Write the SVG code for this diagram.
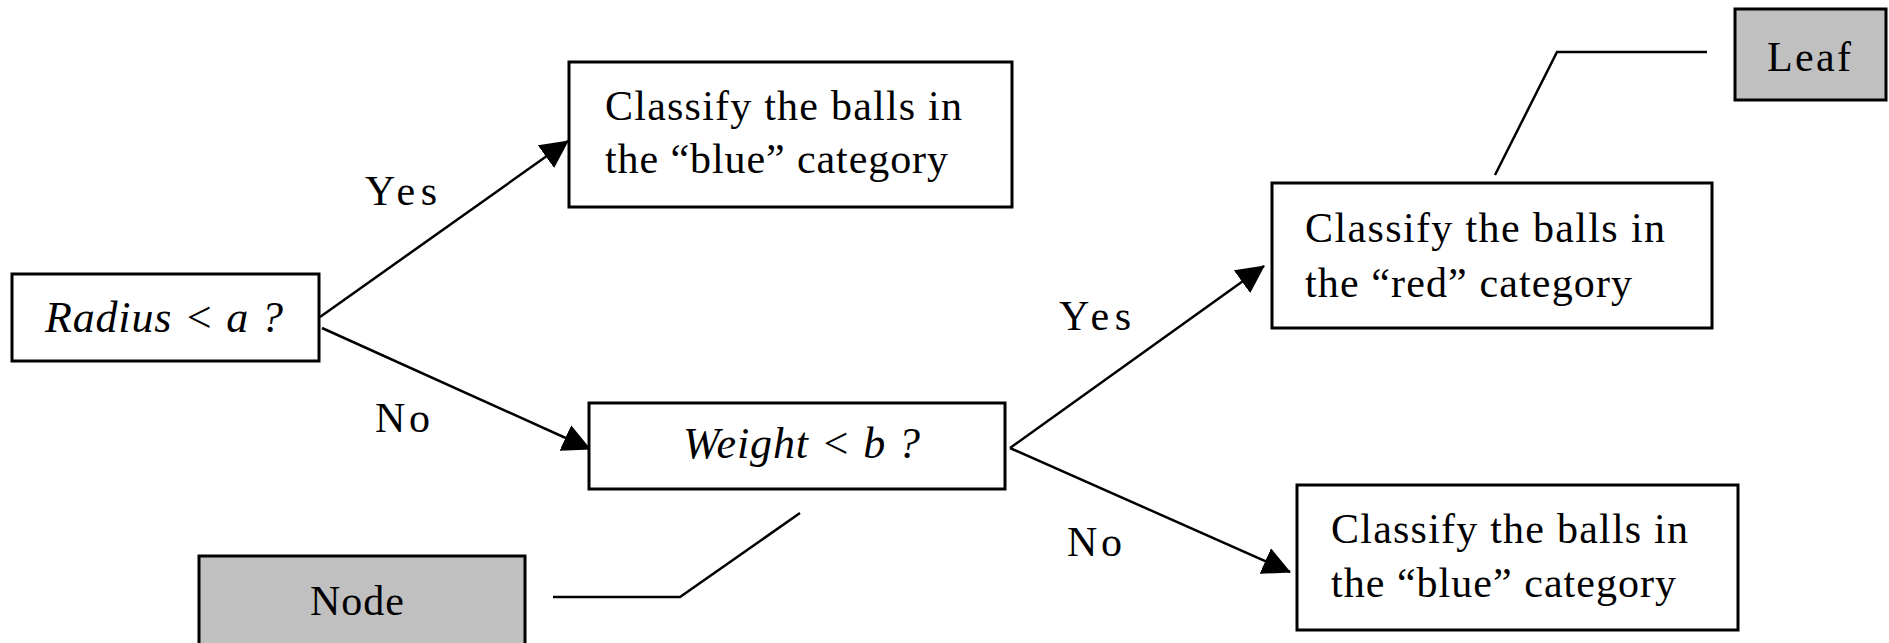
<svg xmlns="http://www.w3.org/2000/svg" width="1889" height="643" viewBox="0 0 1889 643">
<style>
.box{fill:#ffffff;stroke:#000;stroke-width:3}
.gray{fill:#c0c0c0;stroke:#000;stroke-width:3}
.t{font-family:"Liberation Serif","Times New Roman",serif;font-size:42px;fill:#000}
.i{font-family:"Liberation Serif","Times New Roman",serif;font-size:44px;font-style:italic;fill:#000}
.c{fill:none;stroke:#000;stroke-width:2.5}
</style>
<defs>
<marker id="ah" markerUnits="userSpaceOnUse" viewBox="0 0 28 28" markerWidth="28" markerHeight="28" refX="27" refY="14" orient="auto">
<path d="M0,0 L28,14 L0,28 Z" fill="#000"/>
</marker>
</defs>
<rect width="1889" height="643" fill="#fff"/>
<g id="connectors">
<line class="c" x1="320" y1="317" x2="568" y2="141" marker-end="url(#ah)"/>
<line class="c" x1="322" y1="328" x2="590" y2="449" marker-end="url(#ah)"/>
<line class="c" x1="1010" y1="448" x2="1264" y2="266" marker-end="url(#ah)"/>
<line class="c" x1="1010" y1="448" x2="1290" y2="572" marker-end="url(#ah)"/>
<polyline class="c" points="553,597 680,597 800,513"/>
<polyline class="c" points="1707,52 1557,52 1495,175"/>
<text class="t" x="365" y="205" textLength="72" lengthAdjust="spacing">Yes</text>
<text class="t" x="375" y="432" textLength="55" lengthAdjust="spacing">No</text>
<text class="t" x="1059" y="330" textLength="72" lengthAdjust="spacing">Yes</text>
<text class="t" x="1067" y="556" textLength="55" lengthAdjust="spacing">No</text>
</g>
<g id="radius">
<rect class="box" x="12" y="274" width="307" height="87"/>
<text class="i" x="45" y="332" textLength="238" lengthAdjust="spacing">Radius &lt; a ?</text>
</g>
<g id="blue1">
<rect class="box" x="569" y="62" width="443" height="145"/>
<text class="t" x="605" y="120" textLength="357" lengthAdjust="spacing">Classify the balls in</text>
<text class="t" x="605" y="173" textLength="343" lengthAdjust="spacing">the “blue” category</text>
</g>
<g id="weight">
<rect class="box" x="589" y="403" width="416" height="86"/>
<text class="i" x="683" y="458" textLength="237" lengthAdjust="spacing">Weight &lt; b ?</text>
</g>
<g id="red">
<rect class="box" x="1272" y="183" width="440" height="145"/>
<text class="t" x="1305" y="242" textLength="360" lengthAdjust="spacing">Classify the balls in</text>
<text class="t" x="1305" y="297" textLength="327" lengthAdjust="spacing">the “red” category</text>
</g>
<g id="blue2">
<rect class="box" x="1297" y="485" width="441" height="145"/>
<text class="t" x="1331" y="543" textLength="357" lengthAdjust="spacing">Classify the balls in</text>
<text class="t" x="1331" y="597" textLength="345" lengthAdjust="spacing">the “blue” category</text>
</g>
<g id="node">
<rect class="gray" x="199" y="556" width="326" height="110"/>
<text class="t" x="310" y="615" textLength="94" lengthAdjust="spacing">Node</text>
</g>
<g id="leaf">
<rect class="gray" x="1735" y="9" width="151" height="91"/>
<text class="t" x="1767" y="71" textLength="84" lengthAdjust="spacing">Leaf</text>
</g>
</svg>
